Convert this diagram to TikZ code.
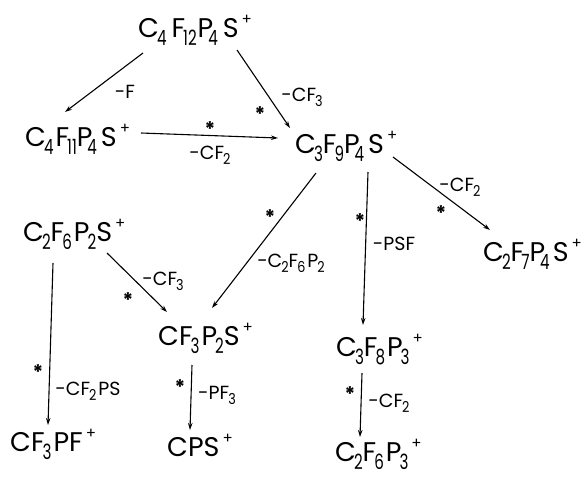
\documentclass[tikz,border=0pt]{standalone}
\usepackage{fontspec}
\setmainfont{Poppins}
\usetikzlibrary{arrows.meta}
\newcommand\ssub[2][-2pt]{\kern#1\raisebox{-8pt}{\scalebox{0.72}[1]{\fontsize{21}{21}\selectfont #2}}}
\newcommand\lsub[2][-1pt]{\kern#1\raisebox{-5pt}{\scalebox{0.85}[1]{\fontsize{15}{15}\selectfont #2}}}
\newcommand\splus{\kern3pt\raisebox{13pt}{\fontsize{15}{15}\selectfont +}}
\begin{document}
\begin{tikzpicture}[x=1pt,y=-1pt,
  ion/.style={anchor=base west, inner sep=0pt, font=\fontsize{27}{27}\selectfont},
  lab/.style={inner sep=0pt, font=\fontsize{19}{19}\selectfont},
  starmark/.style={inner sep=0pt, font=\fontsize{20}{20}\selectfont\bfseries},
  arr/.style={-{Stealth[length=7pt,width=4.5pt]}, line width=1.1pt}]
\useasboundingbox (0,0) rectangle (581,477);
% ions
\node[ion] (A) at (138,37) {C\ssub{4}\kern5pt F\ssub{12}\kern1pt P\ssub[-5pt]{4}\kern5pt S\splus};
\node[ion] (B) at (25,146) {C\ssub{4}\kern2pt F\ssub{11}P\ssub[-5pt]{4}\kern4pt S\splus};
\node[ion] (C) at (295,153) {C\ssub{3}F\ssub{9}P\ssub[-5pt]{4}\kern4pt S\splus};
\node[ion] (D) at (23,241) {C\ssub{2}F\ssub{6}\kern2pt P\ssub{2}S\splus};
\node[ion] (E) at (158,345) {CF\ssub{3}\kern2pt P\ssub{2}S\splus};
\node[ion] (F) at (483,261) {C\ssub{2}F\ssub[-3pt]{7}P\ssub[-5pt]{4}\kern3pt S\splus};
\node[ion] (G) at (336,356) {C\ssub{3}F\ssub{8}\kern2pt P\ssub{3}\splus};
\node[ion] (H) at (10,451) {CF\ssub{3}\kern2pt PF\splus};
\node[ion] (I) at (167,456) {CPS\splus};
\node[ion] (J) at (335,461) {C\ssub{2}F\ssub{6}\kern2pt P\ssub{3}\splus};
% connectors
\draw[arr] ([shift={(5,16)}]A.base west) -- ([shift={(40,-34)}]B.base west);
\draw[arr] ([shift={(99,13)}]A.base west) -- ([shift={(-5,-25)}]C.base west);
\draw[arr] ([shift={(116,-13)}]B.base west) -- ([shift={(-17,-15)}]C.base west);
\draw[arr] ([shift={(21,20)}]C.base west) -- ([shift={(54,-37)}]E.base west);
\draw[arr] ([shift={(73,19)}]C.base west) -- ([shift={(27,-31)}]G.base west);
\draw[arr] ([shift={(98,4)}]C.base west) -- ([shift={(7,-31)}]F.base west);
\draw[arr] ([shift={(84,12)}]D.base west) -- ([shift={(9,-33)}]E.base west);
\draw[arr] ([shift={(30,22)}]D.base west) -- ([shift={(38,-26)}]H.base west);
\draw[arr] ([shift={(34,20)}]E.base west) -- ([shift={(23,-26)}]I.base west);
\draw[arr] ([shift={(26,17)}]G.base west) -- ([shift={(25,-24)}]J.base west);
% labels
\node[lab] (l1) at (125,92) {-F};
\node[lab] (l2) at (302,97) {-CF\lsub{3}};
\node[starmark] (s2) at (260,114) {*};
\node[starmark] (s3) at (210,129) {*};
\node[lab] (l3) at (210,155) {-CF\lsub{2}};
\node[starmark] (s4) at (270,217) {*};
\node[lab] (l4) at (291,263) {-C\lsub{2}F\lsub{6}\kern2pt P\lsub{2}};
\node[starmark] (s5) at (360,221) {*};
\node[lab] (l5) at (394,244) {-PSF};
\node[lab] (l6) at (460,187) {-CF\lsub{2}};
\node[starmark] (s6) at (441,213) {*};
\node[lab] (l7) at (163,281) {-CF\lsub{3}};
\node[starmark] (s7) at (128,300) {*};
\node[starmark] (s8) at (38,372) {*};
\node[lab] (l8) at (88,391) {-CF\lsub{2}\kern2pt PS};
\node[starmark] (s9) at (180,387) {*};
\node[lab] (l9) at (217,395) {-PF\lsub{3}};
\node[starmark] (s10) at (350,394) {*};
\node[lab] (l10) at (389,403) {-CF\lsub{2}};
\end{tikzpicture}
\end{document}
